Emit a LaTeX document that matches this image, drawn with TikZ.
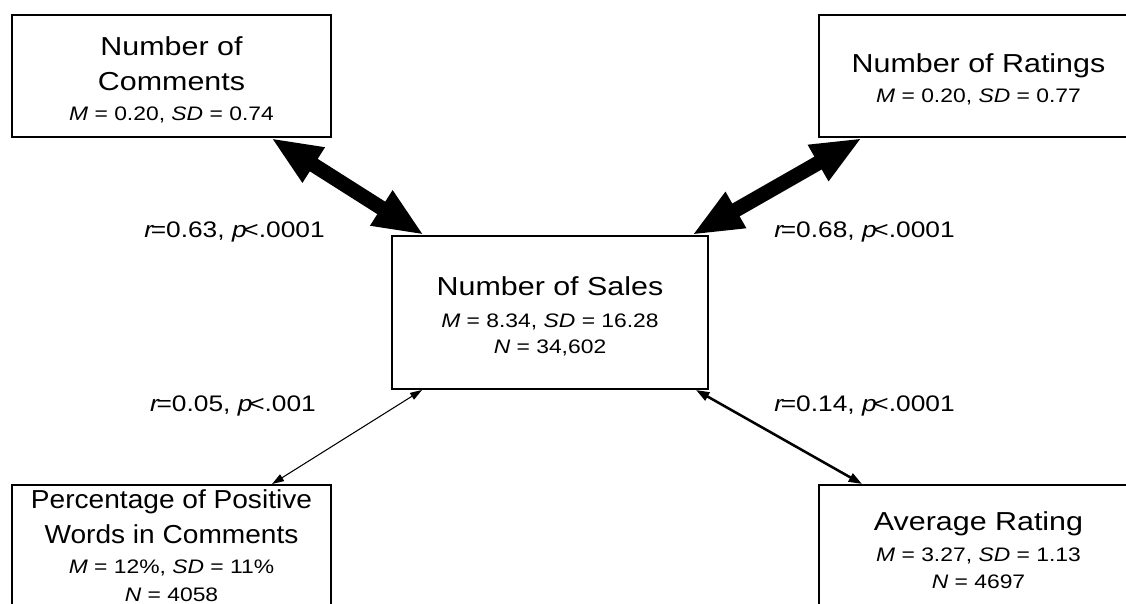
\documentclass[tikz,border=0pt]{standalone}
\usepackage{fontspec}
\setmainfont{Liberation Sans}
\usepackage{graphicx}
\usetikzlibrary{arrows.meta}

\newcommand{\wide}[1]{\scalebox{1.17}[1]{#1}}
\newcommand{\lowered}[1]{\raisebox{-2.7pt}[\height][\depth]{#1}}
\newcommand{\headln}[1]{{\fontsize{18.5}{24.9}\selectfont\lowered{\wide{#1}}}}
\newcommand{\statln}[1]{{\fontsize{13.9}{19}\selectfont\lowered{\wide{#1}}}}
% the bottom-left box sits at the page edge: no lowering there
\newcommand{\narrowln}[1]{{\fontsize{18.5}{24.9}\selectfont\scalebox{1.08}[1]{#1}}}
\newcommand{\edgestatln}[1]{{\fontsize{13.9}{19}\selectfont\wide{#1}}}

\tikzset{
  varbox/.style={draw, line width=1.4pt, minimum width=7.975cm, minimum height=3.05cm,
    inner sep=2pt, align=center, font=\fontsize{18.5}{24.9}\selectfont},
  corr/.style={font=\fontsize{16}{19}\selectfont, anchor=base, inner sep=0pt},
  strongcorr/.style={line width=10.5pt, arrows={Triangle[length=36pt,width=27pt]-Triangle[length=36pt,width=27pt]}},
  midcorr/.style={line width=1.8pt, arrows={Triangle[length=9.5pt,width=6.5pt]-Triangle[length=9.5pt,width=6.5pt]}},
  weakcorr/.style={line width=0.75pt, arrows={Triangle[length=8.5pt,width=5.5pt]-Triangle[length=8.5pt,width=5.5pt]}}
}

\begin{document}
\begin{tikzpicture}
	\useasboundingbox (0,0) rectangle (28.15,15.1);

	% variables
	\node[varbox] (comments) at (4.2875,13.2) {\headln{Number of}\\ \headln{Comments}\\[-3.6pt] \statln{\textit{M} = 0.20, \textit{SD} = 0.74}};
	\node[varbox] (ratings) at (24.4625,13.2) {\headln{Number of Ratings}\\[-3.6pt] \statln{\textit{M} = 0.20, \textit{SD} = 0.77}};
	\node[varbox, minimum width=7.9cm, minimum height=3.825cm] (sales) at (13.75,7.2875) {\headln{Number of Sales}\\[-2.1pt] \statln{\textit{M} = 8.34, \textit{SD} = 16.28}\\[-7.1pt] \statln{\textit{N} = 34,602}};
	\node[varbox] (positive) at (4.2875,1.45) {\narrowln{Percentage of Positive}\\ \narrowln{Words in Comments}\\[-3.6pt] \edgestatln{\textit{M} = 12\%, \textit{SD} = 11\%}\\[-4.8pt] \edgestatln{\textit{N} = 4058}};
	\node[varbox] (avgrating) at (24.4625,1.45) {\headln{Average Rating}\\[-2.9pt] \statln{\textit{M} = 3.27, \textit{SD} = 1.13}\\[-5.7pt] \statln{\textit{N} = 4697}};

	% correlations
	\draw[strongcorr] ([xshift=6.5cm]comments.south west) -- ([xshift=0.825cm]sales.north west);
	\draw[strongcorr] ([xshift=1.1cm]ratings.south west) -- ([xshift=-0.425cm]sales.north east);
	\draw[weakcorr] ([xshift=0.775cm]sales.south west) -- ([xshift=6.525cm]positive.north west);
	\draw[midcorr] ([xshift=-0.325cm]sales.south east) -- ([xshift=1.1cm]avgrating.north west);

	\node[corr] (rcomm) at (5.8625,9.15) {\wide{\textit{r}\kern-.12em=0.63, \textit{p}\kern-.12em<.0001}};
	\node[corr] (rrat) at (21.6125,9.15) {\wide{\textit{r}\kern-.12em=0.68, \textit{p}\kern-.12em<.0001}};
	\node[corr] (rpos) at (5.825,4.8) {\wide{\textit{r}\kern-.12em=0.05, \textit{p}\kern-.12em<.001}};
	\node[corr] (ravg) at (21.6125,4.8) {\wide{\textit{r}\kern-.12em=0.14, \textit{p}\kern-.12em<.0001}};

\end{tikzpicture}
\end{document}
